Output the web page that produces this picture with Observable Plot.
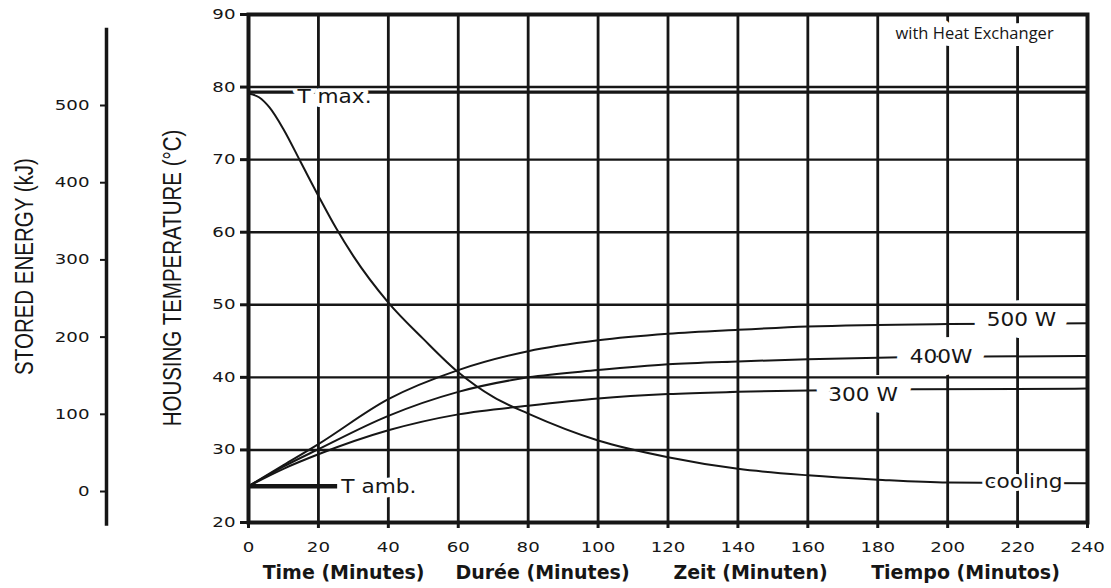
<!DOCTYPE html>
<html><head><meta charset="utf-8">
<script src="https://cdn.jsdelivr.net/npm/d3@7"></script>
<script src="https://cdn.jsdelivr.net/npm/@observablehq/plot@0.6"></script>
<style>
html,body{margin:0;padding:0;background:#fff;}
</style></head><body><div id="chart"></div>
<script>
// ---- data ----
const xTicks = [0,20,40,60,80,100,120,140,160,180,200,220,240];
const yTicks = [20,30,40,50,60,70,80,90];
const energyTicks = [0,100,200,300,400,500];
const energyExtent = [-45, 600];
// stored energy scale expressed in housing temperature (°C at 0 kJ, °C per kJ)
const energyZeroTemp = 24.27, tempPerKJ = 0.10638;

const coolingTime = [0,3,6,10,15,20,25,30,40,50,60,70,80,100,120,140,160,180,200,240];
const coolingTemp = [79.1,78.6,77.2,74.2,69.6,65.0,60.6,56.7,50.3,45.3,40.7,37.3,35.0,31.3,29.0,27.4,26.5,25.9,25.5,25.4];
const w500Time = [0,10,20,40,60,80,100,120,140,160,200,240];
const w500Temp = [25,27.9,30.8,37.0,41.0,43.6,45.1,46.0,46.55,47.0,47.35,47.45];
const w400Time = [0,10,20,40,60,80,100,120,140,160,190,240];
const w400Temp = [25,27.7,30.1,34.7,38.0,40.0,41.0,41.8,42.2,42.5,42.8,42.95];
const w300Time = [0,10,20,40,60,80,100,120,140,160,190,240];
const w300Temp = [25,27.4,29.4,32.7,34.9,36.1,37.1,37.7,38.0,38.2,38.35,38.45];

const tMax = 79.3, tAmb = 25.0, tAmbEnd = 25.5;

const labelText = ["500 W","400W","300 W","cooling","T max.","T amb."];
const labelX = [221.1,198.1,175.8,221.7,24.6,37.3];
const labelY = [47.95,42.8,37.65,25.55,78.6,24.9];

const noteText = "with Heat Exchanger";
const noteX = 207.7, noteY = 87.4;

const xTitles = ["Time (Minutes)","Durée (Minutes)","Zeit (Minuten)","Tiempo (Minutos)"];
const xTitleX = [27.2,84.1,143.6,205.1];
const yTitle = "HOUSING TEMPERATURE (°C)";
const energyTitle = "STORED ENERGY (kJ)";

// ---- build tables ----
const rows = [];
const add = (name, ts, vs) => ts.forEach((t,i) => rows.push({series:name, t, T: vs[i]}));
add("cooling", coolingTime, coolingTemp);
add("500", w500Time, w500Temp);
add("400", w400Time, w400Temp);
add("300", w300Time, w300Temp);
const labels = labelText.map((s,i) => ({s, x: labelX[i], y: labelY[i]}));
const eToT = e => energyZeroTemp + tempPerKJ * e;
const ink = "#161616";
const sans = "DejaVu Sans";

const labelMark = (idx, halo) => Plot.text(idx.map(i => labels[i]), {
  x: "x", y: "y", text: "s", fontFamily: sans, fontSize: 19, fill: ink,
  stroke: "white", strokeWidth: halo, lineAnchor: "middle"
});

const chart = Plot.plot({
  width: 1111, height: 588,
  marginLeft: 248, marginRight: 24, marginTop: 14, marginBottom: 66,
  style: {fontFamily: sans, background: "#fff", color: ink},
  x: {domain: [0, 240], axis: null},
  y: {domain: [20, 90], axis: null},
  marks: [
    Plot.ruleX(xTicks, {stroke: ink, strokeWidth: 2.8}),
    Plot.line(rows, {x: "t", y: "T", z: "series", curve: "monotone-x", stroke: ink, strokeWidth: 2}),
    Plot.ruleY([tMax], {x1: 0, x2: 240, stroke: ink, strokeWidth: 3.2}),
    Plot.ruleY([tAmb], {x1: 0, x2: tAmbEnd, stroke: ink, strokeWidth: 4.5}),
    labelMark([0,1,2], 24),
    labelMark([3], 6),
    labelMark([4], 8),
    labelMark([5], 9),
    Plot.text([noteText], {x: noteX, y: noteY, text: d => d, fontFamily: "Open Sans", fontSize: 16.5,
      fill: ink, stroke: "white", strokeWidth: 14, lineAnchor: "middle"}),
    Plot.ruleY(yTicks, {stroke: ink, strokeWidth: 2.4}),
    Plot.frame({stroke: ink, strokeWidth: 4}),
    Plot.axisY(yTicks, {anchor: "left", tickSize: 8, tickPadding: 5, strokeWidth: 3, fontSize: 14, label: null}),
    Plot.axisX(xTicks, {anchor: "bottom", tickSize: 6, tickPadding: 14, strokeWidth: 3, fontSize: 14, label: null}),
    // stored energy axis (secondary, left)
    Plot.ruleX([0], {y1: eToT(energyExtent[0]), y2: eToT(energyExtent[1]), dx: -142, stroke: ink, strokeWidth: 3.5}),
    Plot.axisY(energyTicks.map(eToT), {anchor: "left", dx: -142, tickSize: 6, tickPadding: 11, strokeWidth: 2, fontSize: 14,
      label: null, tickFormat: d => String(Math.round((d - energyZeroTemp) / tempPerKJ))}),
    // titles
    Plot.text(xTitles, {x: (d,i) => xTitleX[i], frameAnchor: "bottom", dy: 50, text: d => d,
      fontFamily: sans, fontWeight: "bold", fontSize: 19, fill: ink, lineAnchor: "middle"}),
    Plot.text([yTitle], {frameAnchor: "left", rotate: -90, dx: -75.5, dy: 9.5, text: d => d, textAnchor: "middle",
      fontFamily: "Liberation Sans", fontSize: 25, fill: ink, lineAnchor: "middle"}),
    Plot.text([energyTitle], {frameAnchor: "left", rotate: -90, dx: -224, dy: -2, text: d => d, textAnchor: "middle",
      fontFamily: "Liberation Sans", fontSize: 25, fill: ink, lineAnchor: "middle"})
  ]
});
document.getElementById("chart").append(chart);

// stretch or condense glyphs about their anchor point (along the reading direction)
function stretch(el, sx) {
  let t = el.getAttribute("transform");
  if (!t) {
    const x = el.getAttribute("x") || 0, y = el.getAttribute("y") || 0;
    el.removeAttribute("x"); el.removeAttribute("y");
    t = `translate(${x},${y})`;
  }
  el.setAttribute("transform", `${t} scale(${sx},1)`);
}
chart.querySelectorAll('g[aria-label$="tick label"] text').forEach(el => stretch(el, 1.3));
Array.from(chart.querySelectorAll("text")).forEach(el => {
  const s = el.textContent;
  if (s === yTitle || s === energyTitle) stretch(el, 0.82);
  else if (labelText.includes(s)) stretch(el, 1.14);
});
</script></body></html>
